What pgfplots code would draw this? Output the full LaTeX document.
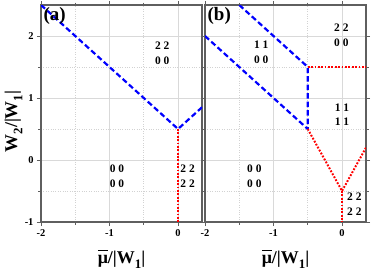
\documentclass[border=0pt]{standalone}
\usepackage{pgfplots}
\pgfplotsset{compat=1.18}
\usepackage{fontspec}
\setmainfont{Liberation Serif}
\definecolor{axgray}{RGB}{95,95,95}
\tikzset{
  bl/.style={blue, line width=2.2pt, dash pattern=on 5.5pt off 3pt},
  rd/.style={red, line width=2pt, dash pattern=on 1.8pt off 1.6pt},
  lab/.style={align=center, font=\fontsize{11.5}{15}\selectfont\bfseries, inner sep=0pt},
  plab/.style={anchor=north west, font=\fontsize{19}{21}\selectfont\bfseries, inner sep=2.5pt},
}
\pgfplotsset{
  panel/.style={
    scale only axis, width=161bp, height=217bp,
    xmin=-2, xmax=0.35, ymin=-1, ymax=2.5,
    xtick={-2,-1,0}, ytick={-1,0,1,2},
    minor xtick={-1.5,-0.5}, minor ytick={-0.5,0.5,1.5},
    grid=both,
    major grid style={gray!30, line width=0.6pt},
    minor grid style={gray!35, dotted, line width=0.6pt},
    axis line style={axgray, line width=1.4pt},
    tick style={axgray, line width=0.9pt},
    tick align=outside,
    major tick length=4bp, minor tick length=2.5bp,
    /pgf/number format/assume math mode=true,
    ticklabel style={font=\fontsize{10.5}{12}\selectfont\bfseries},
    xlabel={\textbf{$\overline{\vphantom{\hbox{W}}\hbox{\bfseries μ}}$/|W\raisebox{-0.3em}{\fontsize{13}{13}\selectfont 1}|}},
    xlabel style={font=\fontsize{18}{20}\selectfont\bfseries, at={(rel axis cs:0.5,-0.189)}, anchor=base},
    clip=true,
  },
}
\begin{document}
\begin{tikzpicture}
\useasboundingbox (0,0) rectangle (374bp,272bp);
\begin{axis}[panel, at={(41bp,50bp)}, anchor=south west,
  ylabel={\textbf{W\raisebox{-0.3em}{\fontsize{13}{13}\selectfont 2}/|W\raisebox{-0.3em}{\fontsize{13}{13}\selectfont 1}|}},
  ylabel style={font=\fontsize{18}{20}\selectfont\bfseries, at={(rel axis cs:-0.149,0.463)}, anchor=base}]
\addplot[bl] coordinates {(-2,2.5) (0,0.5) (0.4,0.9)};
\addplot[rd] coordinates {(0,0.5) (0,-1)};
\node[lab] at (axis cs:-0.23,1.72) {2 2\\0 0};
\node[lab] at (axis cs:-0.89,-0.26) {0 0\\0 0};
\node[lab] at (axis cs:0.14,-0.26) {2 2\\2 2};
\node[plab] at (rel axis cs:0,1) {(a)};
\end{axis}
\begin{axis}[panel, at={(205bp,50bp)}, anchor=south west, yticklabels={}]
\addplot[bl] coordinates {(-2,2) (-0.5,0.5)};
\addplot[bl] coordinates {(-1.5,2.5) (-0.5,1.5) (-0.5,0.5)};
\addplot[rd] coordinates {(-0.5,1.5) (0.4,1.5)};
\addplot[rd] coordinates {(-0.5,0.5) (0,-0.5) (0.4,0.3)};
\addplot[rd] coordinates {(0,-0.5) (0,-1)};
\node[lab] at (axis cs:-1.18,1.73) {1 1\\0 0};
\node[lab] at (axis cs:-0.01,2.01) {2 2\\0 0};
\node[lab] at (axis cs:0,0.73) {1 1\\1 1};
\node[lab] at (axis cs:-1.28,-0.26) {0 0\\0 0};
\node[lab] at (axis cs:0.18,-0.72) {2 2\\2 2};
\node[plab] at (rel axis cs:0,1) {(b)};
\end{axis}
\end{tikzpicture}
\end{document}
